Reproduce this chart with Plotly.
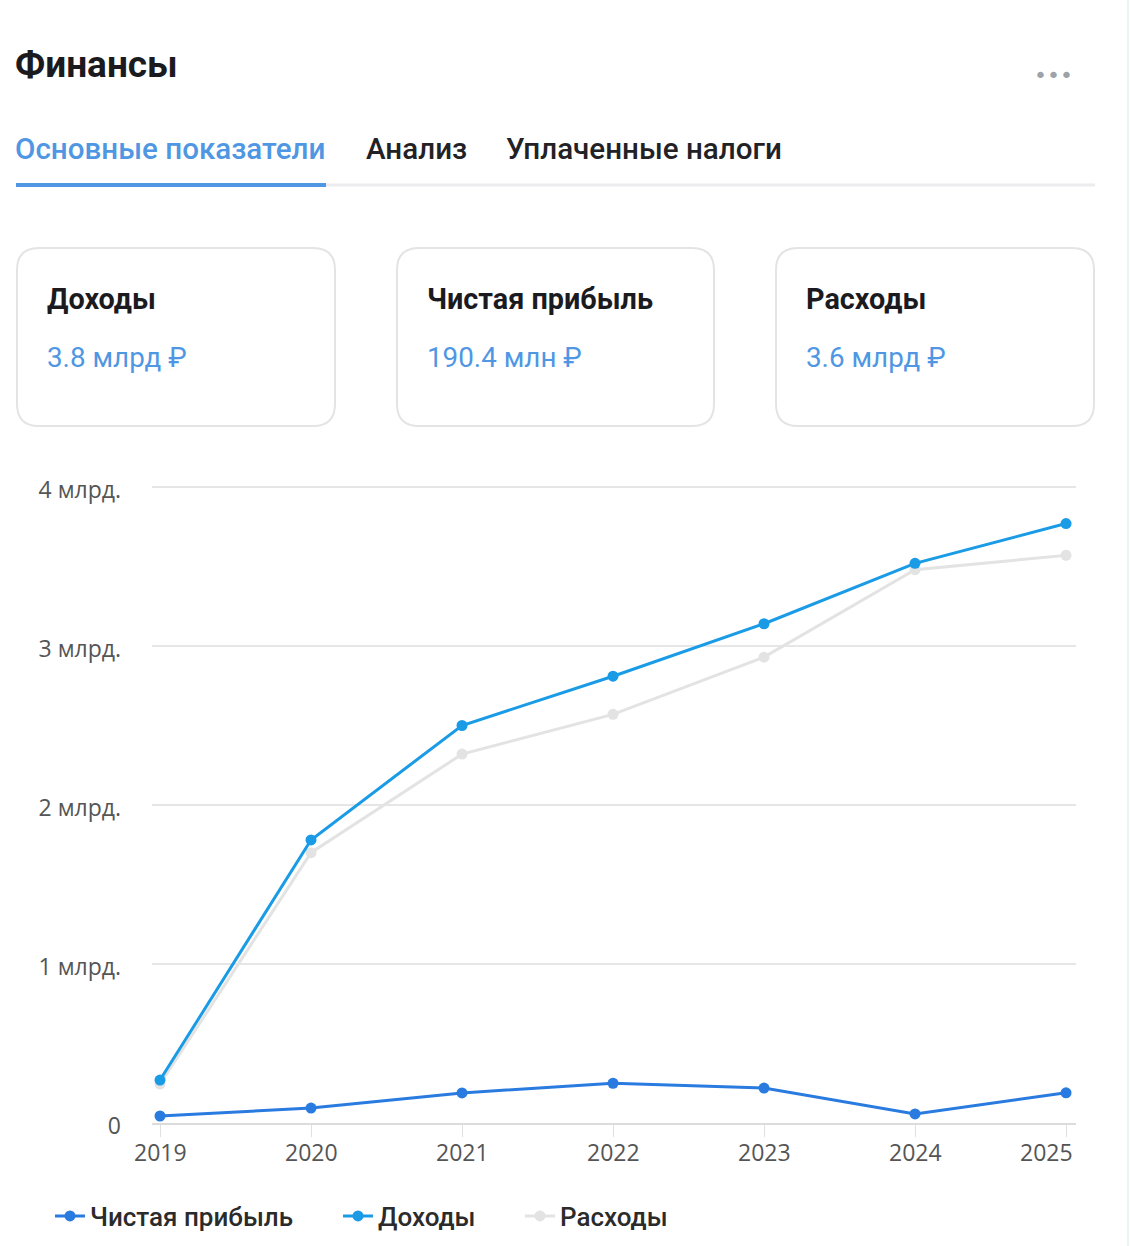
import plotly.graph_objects as go

# ---- data ----
years = [2019, 2020, 2021, 2022, 2023, 2024, 2025]
net_profit = [0.044, 0.094, 0.189, 0.25, 0.22, 0.057, 0.19]   # млрд ₽
income = [0.27, 1.78, 2.50, 2.81, 3.14, 3.52, 3.77]
expenses = [0.245, 1.70, 2.32, 2.57, 2.93, 3.48, 3.57]
y_tick_vals = [0, 1, 2, 3, 4]
y_tick_text = ["0", "1 млрд.", "2 млрд.", "3 млрд.", "4 млрд."]
x_tick_text = ["2019", "2020", "2021", "2022", "2023", "2024", "2025"]

title = "Финансы"
tabs = ["Основные показатели", "Анализ", "Уплаченные налоги"]
card_titles = ["Доходы", "Чистая прибыль", "Расходы"]
card_values = ["3.8 млрд ₽", "190.4 млн ₽", "3.6 млрд ₽"]

# ---- layout geometry (pixels) ----
W, H = 1130, 1246
L, R, T, B = 152, 1076, 480, 1123


def px(x):
    return (x - L) / (R - L)


def py(y):
    return (B - y) / (B - T)


def rrect(x0, y0, x1, y1, r):
    pts = [
        ("M", [(x0 + r, y0)]),
        ("L", [(x1 - r, y0)]),
        ("Q", [(x1, y0), (x1, y0 + r)]),
        ("L", [(x1, y1 - r)]),
        ("Q", [(x1, y1), (x1 - r, y1)]),
        ("L", [(x0 + r, y1)]),
        ("Q", [(x0, y1), (x0, y1 - r)]),
        ("L", [(x0, y0 + r)]),
        ("Q", [(x0, y0), (x0 + r, y0)]),
    ]
    s = ""
    for cmd, ps in pts:
        s += cmd + " " + " ".join(f"{px(a):.5f},{py(b):.5f}" for a, b in ps) + " "
    return s + "Z"


fig = go.Figure()

c_exp = "#e3e3e3"
c_inc = "#1a9be6"
c_net = "#2a7be0"

fig.add_trace(go.Scatter(x=years, y=expenses, name="Расходы", mode="lines+markers",
                         line=dict(color=c_exp, width=3), marker=dict(size=11, color=c_exp),
                         legend="legend3"))
fig.add_trace(go.Scatter(x=years, y=income, name="Доходы", mode="lines+markers",
                         line=dict(color=c_inc, width=3), marker=dict(size=11, color=c_inc),
                         legend="legend2"))
fig.add_trace(go.Scatter(x=years, y=net_profit, name="Чистая прибыль", mode="lines+markers",
                         line=dict(color=c_net, width=3), marker=dict(size=11, color=c_net),
                         legend="legend"))

tick_font = dict(family="Open Sans", size=23, color="#555555")
leg_font = dict(family="Roboto", size=26, color="#2b2b2b", weight=500)

shapes = []
annotations = []

# header
annotations.append(dict(text=title, x=px(13), y=py(64), xref="paper", yref="paper",
                        xanchor="left", yanchor="middle", showarrow=False,
                        font=dict(family="Roboto", size=37, color="#1b1b1f", weight=700)))
annotations.append(dict(text="•••", x=px(1053), y=py(75), xref="paper", yref="paper",
                        xanchor="center", yanchor="middle", showarrow=False,
                        font=dict(family="DejaVu Sans", size=22, color="#9ea2a9")))
# tabs
tab_x = [13, 364, 504]
tab_colors = ["#4f97e3", "#222226", "#222226"]
for t, x, c in zip(tabs, tab_x, tab_colors):
    annotations.append(dict(text=t, x=px(x), y=py(149), xref="paper", yref="paper",
                            xanchor="left", yanchor="middle", showarrow=False,
                            font=dict(family="Roboto", size=29.6, color=c, weight=500)))
shapes.append(dict(type="line", xref="paper", yref="paper", x0=px(16), x1=px(1095),
                   y0=py(185), y1=py(185), line=dict(color="#ececee", width=3)))
shapes.append(dict(type="line", xref="paper", yref="paper", x0=px(16), x1=px(326),
                   y0=py(185), y1=py(185), line=dict(color="#4f97e3", width=4)))

# cards
card_x = [(17, 335), (397, 714), (776, 1094)]
for (x0, x1), ttl, val in zip(card_x, card_titles, card_values):
    shapes.append(dict(type="path", xref="paper", yref="paper", path=rrect(x0, 248, x1, 426, 22),
                       line=dict(color="#e4e4e6", width=2), fillcolor="white", layer="below"))
    annotations.append(dict(text=ttl, x=px(x0 + 28), y=py(299), xref="paper", yref="paper",
                            xanchor="left", yanchor="middle", showarrow=False,
                            font=dict(family="Roboto", size=28.8, color="#1b1b1f", weight=700)))
    annotations.append(dict(text=val, x=px(x0 + 28), y=py(357), xref="paper", yref="paper",
                            xanchor="left", yanchor="middle", showarrow=False,
                            font=dict(family="Roboto", size=27.8, color="#4f97e3", weight=400)))

# x-axis category labels (last one kept inside the plot edge, as in the original)
for i, (yr, lab) in enumerate(zip(years, x_tick_text)):
    last = i == len(years) - 1
    annotations.append(dict(text=lab, x=yr, xref="x", y=py(1152), yref="paper",
                            xanchor="right" if last else "center", yanchor="middle",
                            xshift=9 if last else 0, showarrow=False, font=tick_font))

# faint outer frame edge on right
shapes.append(dict(type="line", xref="paper", yref="paper", x0=px(1128), x1=px(1128),
                   y0=py(0), y1=py(1246), line=dict(color="#eef5ee", width=2)))

legend_common = dict(orientation="h", xanchor="left", yanchor="middle", font=leg_font,
                     bgcolor="rgba(0,0,0,0)", itemclick=False, itemdoubleclick=False)

fig.update_layout(
    width=W, height=H, autosize=False,
    margin=dict(l=L, r=W - R, t=T, b=H - B, autoexpand=False),
    paper_bgcolor="white", plot_bgcolor="white",
    showlegend=True,
    legend=dict(x=px(50), y=py(1216), **legend_common),
    legend2=dict(x=px(338), y=py(1216), **legend_common),
    legend3=dict(x=px(520), y=py(1216), **legend_common),
    xaxis=dict(range=[2018.947, 2025.066], tickvals=years, showticklabels=False,
               showgrid=False, zeroline=False, showline=True, linecolor="#dcdcdc", linewidth=2,
               ticks="outside", ticklen=12, tickcolor="#e0e0e0", tickwidth=1,
               fixedrange=True),
    yaxis=dict(range=[0, (B - T) / 159.0], tickvals=y_tick_vals, ticktext=y_tick_text,
               showgrid=True, gridcolor="#e6e6e6", gridwidth=2, zeroline=False, showline=False,
               ticks="", ticklabelstandoff=30, ticklabelshift=3, tickfont=tick_font,
               fixedrange=True),
    shapes=shapes,
    annotations=annotations,
    hovermode=False,
)

fig.write_html("out.html", config={"displayModeBar": False})
